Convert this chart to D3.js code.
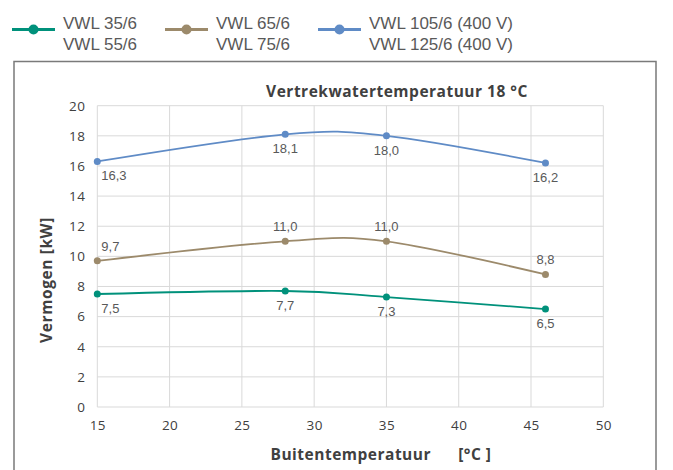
<!DOCTYPE html>
<html>
<head>
<meta charset="utf-8">
<script src="https://cdn.jsdelivr.net/npm/d3@7"></script>
<style>
  body { margin: 0; background: #fff; }
</style>
</head>
<body>
<div id="chart"></div>
<script>
// Buitentemperatuur [°C] per measurement point
const temps = [15, 28, 35, 46];

const vwl35 = [7.5, 7.7, 7.3, 6.5];
const vwl65 = [9.7, 11.0, 11.0, 8.8];
const vwl105 = [16.3, 18.1, 18.0, 16.2];

const xTicks = [15, 20, 25, 30, 35, 40, 45, 50];
const yTicks = [0, 2, 4, 6, 8, 10, 12, 14, 16, 18, 20];

const seriesNames = [
  ['VWL 35/6', 'VWL 55/6'],
  ['VWL 65/6', 'VWL 75/6'],
  ['VWL 105/6 (400 V)', 'VWL 125/6 (400 V)']
];

const W = 673, H = 470;
const tickFont = '"Open Sans", sans-serif';
const labelFont = '"Liberation Sans", Arial, sans-serif';

const series = [
  { values: vwl35, color: '#00917b', labelPos: 'below' },
  { values: vwl65, color: '#9c8a6b', labelPos: 'above' },
  { values: vwl105, color: '#5f8bc6', labelPos: 'below' }
];

const svg = d3.select('#chart')
  .append('svg')
  .attr('width', W)
  .attr('height', H)
  .style('font-family', tickFont);

// chart frame
svg.append('path')
  .attr('d', `M14,${H + 2} V61.5 H656 V${H + 2}`)
  .attr('fill', 'none')
  .attr('stroke', '#7a7a7a')
  .attr('stroke-width', 1.5);

const x = d3.scaleLinear().domain([15, 50]).range([97.3, 603.3]);
const y = d3.scaleLinear().domain([0, 20]).range([407, 105.7]);

// gridlines
const g = svg.append('g');
g.selectAll('.hgrid')
  .data(yTicks)
  .enter()
  .append('line')
  .attr('x1', x(15)).attr('x2', x(50))
  .attr('y1', d => y(d)).attr('y2', d => y(d))
  .attr('stroke', '#d9d9d9')
  .attr('stroke-width', 1);

g.selectAll('.vgrid')
  .data(xTicks)
  .enter()
  .append('line')
  .attr('x1', d => x(d)).attr('x2', d => x(d))
  .attr('y1', y(0)).attr('y2', y(20))
  .attr('stroke', '#d9d9d9')
  .attr('stroke-width', 1);

// axes (no domain lines, grid does that)
const xAxis = svg.append('g')
  .attr('transform', `translate(0,${y(0)})`)
  .call(d3.axisBottom(x).tickValues(xTicks).tickSize(0).tickPadding(13));
const yAxis = svg.append('g')
  .attr('transform', `translate(${x(15)},0)`)
  .call(d3.axisLeft(y).tickValues(yTicks).tickSize(0).tickPadding(12));

[xAxis, yAxis].forEach(a => {
  a.select('.domain').remove();
  a.selectAll('text')
    .style('font-family', tickFont)
    .style('font-size', '13.5px')
    .style('letter-spacing', '0.4px')
    .attr('fill', '#404040');
});

// chart title
svg.append('text')
  .attr('x', 397)
  .attr('y', 97)
  .attr('text-anchor', 'middle')
  .style('font-size', '15.5px')
  .style('font-weight', 'bold')
  .style('letter-spacing', '0.5px')
  .attr('fill', '#404040')
  .text('Vertrekwatertemperatuur 18 °C');

// axis titles
svg.append('text')
  .attr('transform', 'translate(52,280) rotate(-90)')
  .attr('text-anchor', 'middle')
  .style('font-size', '15.5px')
  .style('font-weight', 'bold')
  .style('letter-spacing', '0.6px')
  .attr('fill', '#404040')
  .text('Vermogen [kW]');

svg.append('text')
  .attr('x', 381)
  .attr('y', 460)
  .attr('text-anchor', 'middle')
  .style('font-size', '15.5px')
  .style('font-weight', 'bold')
  .style('letter-spacing', '0.5px')
  .attr('fill', '#404040')
  .style('white-space', 'pre')
  .text('Buitentemperatuur      [°C ]');

// lines
const line = d3.line()
  .x((d, i) => x(temps[i]))
  .y(d => y(d))
  .curve(d3.curveCardinal.tension(0));

series.forEach(s => {
  svg.append('path')
    .datum(s.values)
    .attr('d', line)
    .attr('fill', 'none')
    .attr('stroke', s.color)
    .attr('stroke-width', 1.8);

  svg.selectAll(null)
    .data(s.values)
    .enter()
    .append('circle')
    .attr('cx', (d, i) => x(temps[i]))
    .attr('cy', d => y(d))
    .attr('r', 3.5)
    .attr('fill', s.color);

  svg.selectAll(null)
    .data(s.values)
    .enter()
    .append('text')
    .attr('x', (d, i) => i === 0 ? x(temps[i]) + 4 : x(temps[i]))
    .attr('y', d => s.labelPos === 'below' ? y(d) + 19 : y(d) - 10)
    .attr('text-anchor', (d, i) => i === 0 ? 'start' : 'middle')
    .style('font-family', labelFont)
    .style('font-size', '13px')
    .attr('fill', '#595959')
    .text(d => d3.format('.1f')(d).replace('.', ','));
});

// legend
const legendX = [12, 165, 318];
const legend = svg.selectAll('.legend')
  .data(series)
  .enter()
  .append('g')
  .attr('class', 'legend')
  .attr('transform', (d, i) => `translate(${legendX[i]},0)`);

legend.append('line')
  .attr('x1', 0).attr('x2', 43)
  .attr('y1', 29.5).attr('y2', 29.5)
  .attr('stroke', d => d.color)
  .attr('stroke-width', 3);

legend.append('circle')
  .attr('cx', 21.5).attr('cy', 29.5)
  .attr('r', 5)
  .attr('fill', d => d.color);

legend.each(function(d, i) {
  const grp = d3.select(this);
  seriesNames[i].forEach((name, j) => {
    grp.append('text')
      .attr('x', 51)
      .attr('y', 29 + j * 21)
      .style('font-family', labelFont)
      .style('font-size', '17px')
      .attr('fill', '#595959')
      .text(name);
  });
});
</script>
</body>
</html>
